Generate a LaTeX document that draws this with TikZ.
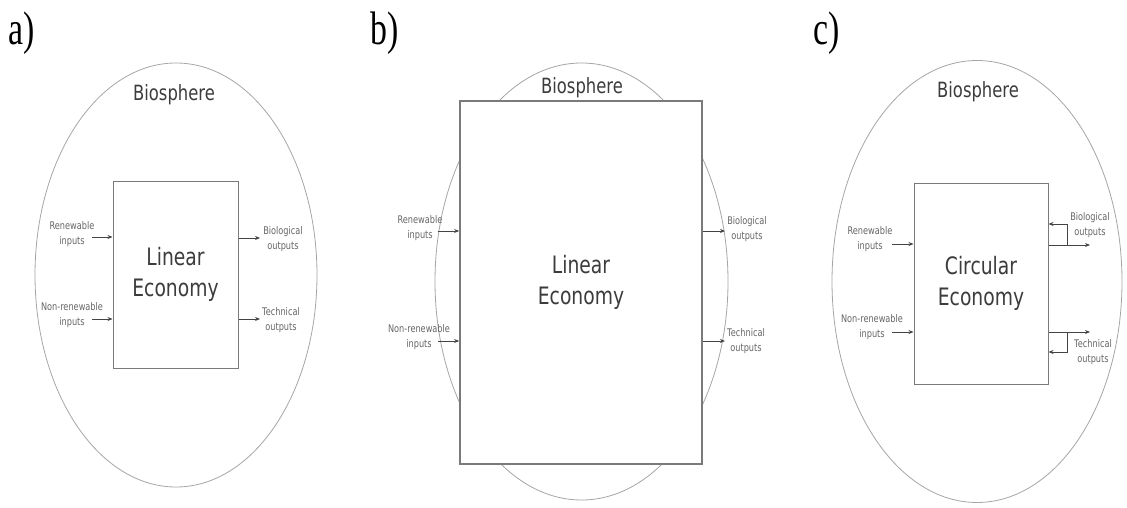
\documentclass[tikz,border=0pt]{standalone}
\usepackage{fontspec}
\usetikzlibrary{shapes.geometric,arrows.meta}
\newfontfamily\diagsans[FakeStretch=0.78]{DejaVu Sans}
\newfontfamily\panelserif[FakeStretch=0.72]{Liberation Serif}
\definecolor{rimgray}{HTML}{A6A6A6}
\definecolor{boxgray}{HTML}{7A7A7A}
\definecolor{flowgray}{HTML}{444444}
\definecolor{bigtext}{HTML}{3C3C3C}
\definecolor{smalltext}{HTML}{666666}
\tikzset{
  panellabel/.style={font=\panelserif\fontsize{47}{47}\selectfont, text=black, inner sep=0pt, anchor=base},
  biosphere/.style={ellipse, draw=rimgray, line width=0.8pt, inner sep=0pt},
  biolabel/.style={font=\diagsans\fontsize{21}{24}\selectfont, text=bigtext, inner sep=0pt},
  ecobox/.style={rectangle, draw=boxgray, fill=white, line width=1pt, inner sep=0pt,
    align=center, font=\diagsans\fontsize{24}{31}\selectfont, text=bigtext},
  flowlabel/.style={font=\diagsans\fontsize{10.5}{15}\selectfont, text=smalltext,
    align=center, inner sep=0pt},
  flow/.style={draw=flowgray, line width=0.8pt, -{Stealth[length=5pt,width=4pt]}},
  loopline/.style={draw=flowgray, line width=0.8pt}
}
\begin{document}
\begin{tikzpicture}[x=1pt,y=-1pt]
\useasboundingbox (0,0) rectangle (1127,508);
\fill[white] (0,0) rectangle (1127,508);

% ---------- a) linear economy inside the biosphere ----------
\node[panellabel] (labA) at (22,45) {a)};
\node[biosphere, minimum width=282pt, minimum height=424pt] (bioA) at (176,275) {};
\node[biolabel] (bioTxtA) at (174,95) {Biosphere};
\node[ecobox, minimum width=125pt, minimum height=187pt] (econA) at (175.5,274.5) {Linear\\Economy};

\node[flowlabel] (renA) at (72,234) {Renewable\\inputs};
\node[flowlabel] (nonA) at (72,315) {Non-renewable\\inputs};
\node[flowlabel] (bioOutA) at (283,239) {Biological\\outputs};
\node[flowlabel] (techOutA) at (281,320) {Technical\\outputs};

\coordinate (renStartA) at (92,237);
\coordinate (nonStartA) at (92,319);
\coordinate (bioEndA) at (260,238);
\coordinate (techEndA) at (260,319);
\draw[flow] (renStartA) -- (renStartA -| econA.west);
\draw[flow] (nonStartA) -- (nonStartA -| econA.west);
\draw[flow] (bioEndA -| econA.east) -- (bioEndA);
\draw[flow] (techEndA -| econA.east) -- (techEndA);

% ---------- b) linear economy outgrowing the biosphere ----------
\node[panellabel] (labB) at (385,45) {b)};
\node[biosphere, minimum width=293pt, minimum height=437pt] (bioB) at (581.5,281.5) {};
\node[biolabel] (bioTxtB) at (582,88) {Biosphere};
\node[ecobox, line width=1.7pt, minimum width=242pt, minimum height=363pt] (econB) at (581,282.5) {Linear\\Economy};

\node[flowlabel] (renB) at (420,228) {Renewable\\inputs};
\node[flowlabel] (nonB) at (419,337.5) {Non-renewable\\inputs};
\node[flowlabel] (bioOutB) at (747,229.5) {Biological\\outputs};
\node[flowlabel] (techOutB) at (746,341) {Technical\\outputs};

\coordinate (renStartB) at (438,231);
\coordinate (nonStartB) at (438,341);
\coordinate (bioEndB) at (725,231);
\coordinate (techEndB) at (725,341);
\draw[flow] (renStartB) -- (renStartB -| econB.west);
\draw[flow] (nonStartB) -- (nonStartB -| econB.west);
\draw[flow] (bioEndB -| econB.east) -- (bioEndB);
\draw[flow] (techEndB -| econB.east) -- (techEndB);

% ---------- c) circular economy inside the biosphere ----------
\node[panellabel] (labC) at (827,45) {c)};
\node[biosphere, minimum width=290pt, minimum height=442pt] (bioC) at (977,281.5) {};
\node[biolabel] (bioTxtC) at (978,92) {Biosphere};
\node[ecobox, minimum width=134pt, minimum height=201pt] (econC) at (981,283.5) {Circular\\Economy};

\node[flowlabel] (renC) at (870,239.5) {Renewable\\inputs};
\node[flowlabel] (nonC) at (872,327) {Non-renewable\\inputs};
\node[flowlabel] (bioOutC) at (1090,225) {Biological\\outputs};
\node[flowlabel] (techOutC) at (1093,352.5) {Technical\\outputs};

\coordinate (renStartC) at (892,244);
\coordinate (nonStartC) at (892,332);
\draw[flow] (renStartC) -- (renStartC -| econC.west);
\draw[flow] (nonStartC) -- (nonStartC -| econC.west);

% biological outputs leave and partly return
\coordinate (bioEndC) at (1090,245);
\coordinate (bioSplitC) at (1067,245);
\coordinate (bioBackC) at (1067,224);
\draw[flow] (bioEndC -| econC.east) -- (bioEndC);
\draw[flow] (bioSplitC) -- (bioBackC) -- (bioBackC -| econC.east);

% technical outputs leave and partly return
\coordinate (techEndC) at (1090,332);
\coordinate (techSplitC) at (1067,332);
\coordinate (techBackC) at (1067,352);
\draw[flow] (techEndC -| econC.east) -- (techEndC);
\draw[flow] (techSplitC) -- (techBackC) -- (techBackC -| econC.east);
\end{tikzpicture}
\end{document}
